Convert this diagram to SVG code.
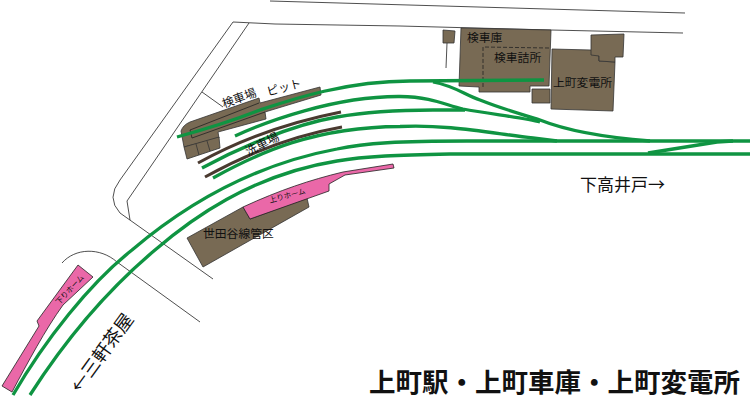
<svg xmlns="http://www.w3.org/2000/svg" width="750" height="400" viewBox="0 0 750 400">
<style>
text{font-family:"Noto Sans CJK JP","Noto Sans",sans-serif;fill:#111}
.b{fill:#786a54;stroke:#333;stroke-width:.8}
.p{fill:#ea68a8;stroke:#222;stroke-width:.8}
.t{fill:none;stroke:#222;stroke-width:.8}
.g{fill:none;stroke:#0f9442;stroke-width:3.300}
.w{fill:none;stroke:#4a3a30;stroke-width:3}
.l{font-size:11.800px}
.s{font-size:7.500px}
</style>
<rect width="750" height="400" fill="#fff"/>
<g id="boundaries">
<path class="t" d="M270 1L685 13M400 26L551 30L683 33"/>
<path class="t" d="M400 26L275 24L233 22L120 180Q106 198 120 213L213 279"/>
<path class="t" d="M249 23L127 201L130 220"/>
<path class="t" d="M202 92L223 107"/>
<path class="t" d="M62 263C75 248 100 247 117 262L200 322"/>
<path class="t" d="M447 43L446 68"/>
</g>
<g id="node-kensha-jo">
<path class="b" d="M181 131Q183 125 190 122L259 98L260 103L320 87L321 95L265 112L266 119L218 132L219 138L184 147Z"/>
<path class="b" d="M184 147L219 137L220 148L187 159ZM196 144L199 155M207 141L210 151"/>
<path class="t" d="M190 130L259 103M192 138L190 130M192 138L265 112"/>
<text class="l" transform="translate(224 108) rotate(-20)">検車場</text>
<text class="l" transform="translate(268 96) rotate(-15)">ピット</text>
</g>
<g id="node-setagaya">
<path class="b" d="M187 238L243 207L250 219L307 198L309 207L203 267Z"/>
<text class="l" x="203" y="238">世田谷線管区</text>
</g>
<g id="node-up-platform">
<path class="p" d="M243 207C280 190 310 180 343 172L393 164L394 168L345 175L329 184L329 191L250 219Z"/>
<text class="s" transform="translate(270 203) rotate(-15)">上りホーム</text>
</g>
<g id="node-down-platform">
<path class="p" d="M78 265L93 277L63 305C45 330 28 362 12 392L2 386L39 326L37 321Z"/>
<text class="s" transform="translate(59 305) rotate(-47)">下りホーム</text>
</g>
<g id="node-small"><path class="b" d="M443 30L455 31L454 43L443 43Z"/></g>
<g id="node-kensha-ko">
<path class="b" d="M461 28L551 30L549 86L530 86L530 92L479 92L479 87L459 86Z"/>
<path class="t" stroke-dasharray="4 2" d="M549 48L483 47L483 87"/>
<text class="l" x="467" y="42">検車庫</text>
<text class="l" x="494" y="62">検車詰所</text>
</g>
<g id="node-box"><path class="b" d="M532 89L550 89L550 103L532 103Z"/></g>
<g id="node-hensho">
<path class="b" d="M552 49L591 50L599 56L599 61L615 62L613 111L551 109Z"/>
<path class="b" d="M591 35L624 34L623 57L615 57L615 62L599 61L599 56L591 55Z"/>
<text class="l" x="553" y="87">上町変電所</text>
</g>
<g id="connectors">
<path class="w" d="M198 163C225 148 275 125 341 112"/>
<path class="w" d="M205 177C232 162 280 138 342 127"/>
<path class="g" d="M177 137C210 128 235 120 260 110C290 100 345 81 410 81L544 80"/>
<path class="g" d="M235 136C265 122 335 96 400 96.500C433 97 445 105 463 109C490 114 525 118 540 122"/>
<path class="g" d="M202 168C235 150 290 125 337 117C365 112 395 110 433 110L465 110"/>
<path class="g" d="M213 178C260 152 315 127 400 126.500C445 124 490 133 533 138L557 141"/>
<path class="g" d="M433 82C455 86 465 95 480 100C505 110 525 115 540 120C565 130 600 137 650 141"/>
<path class="g" d="M13 395C45 340 90 283 132 250C165 222 235 168 337 149C365 143 400 141 467 141L750 141"/>
<path class="g" d="M30 395C62 345 105 292 155 250C190 220 250 175 337 161C365 156 400 155 450 154L750 154"/>
<path class="g" d="M648 153L717 142L733 141"/>
</g>
<g id="labels">
<text font-size="12" transform="translate(248 156) rotate(-27)">洗車場</text>
<text font-size="17" x="580" y="191">下高井戸→</text>
<text font-size="18.500" transform="translate(80 394) rotate(-54)">←三軒茶屋</text>
<text font-size="26.500" font-weight="700" x="369" y="392">上町駅・上町車庫・上町変電所</text>
</g>
</svg>
